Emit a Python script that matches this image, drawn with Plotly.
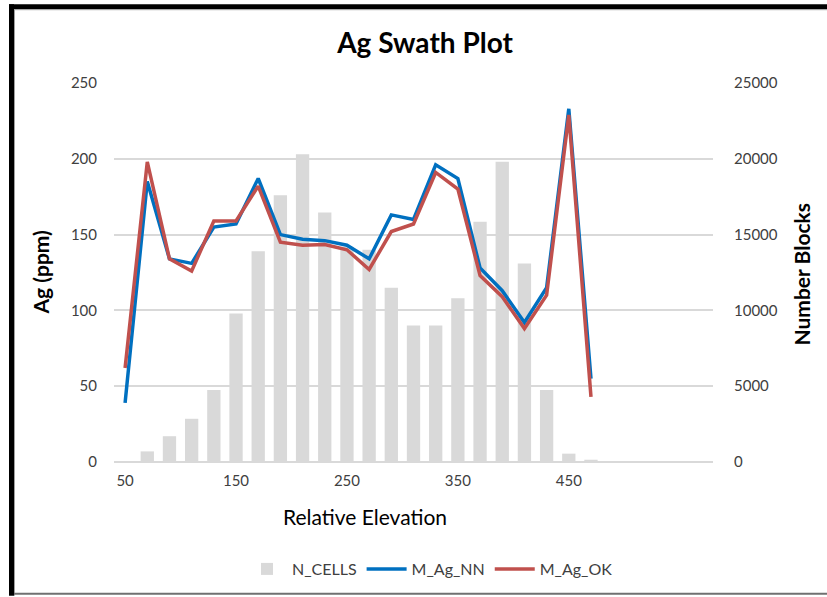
import plotly.graph_objects as go

# Relative elevation slices (swath centres)
elevation = [50, 70, 90, 110, 130, 150, 170, 190, 210, 230, 250, 270,
             290, 310, 330, 350, 370, 390, 410, 430, 450, 470]

# Number of block-model cells per slice
n_cells = [0, 700, 1700, 2850, 4750, 9800, 13900, 17600, 20300, 16450, 14200, 14000,
           11500, 9000, 9000, 10800, 15850, 19800, 13100, 4750, 550, 150]

# Mean Ag grade per slice, nearest-neighbour estimate
m_ag_nn = [39, 185, 134, 131, 155, 157, 187, 150, 147, 146, 143, 134,
           163, 160, 196, 187, 128, 113, 92, 115, 233, 55]

# Mean Ag grade per slice, ordinary-kriging estimate
m_ag_ok = [62, 198, 134, 126, 159, 159, 182, 145, 143, 143.5, 140, 127,
           152, 157, 191, 180, 123, 109, 88, 110, 229, 43]

x_ticks = [50, 150, 250, 350, 450]
left_ticks = [0, 50, 100, 150, 200, 250]
right_ticks = [0, 5000, 10000, 15000, 20000, 25000]

FONT = "Lato, 'Open Sans', sans-serif"
GRID = "#d9d9d9"
TXT = "#404040"

# plot area in pixels
W, H = 827, 597
L, R, T, B = 114, 713, 83, 463


def px(x):
    return (x - L) / (R - L)


def py(y):
    return (B - y) / (B - T)


fig = go.Figure()

fig.add_trace(go.Bar(
    x=elevation, y=n_cells, name="N_CELLS",
    marker=dict(color="#d9d9d9", line=dict(width=0)),
    width=12, yaxis="y",
))
fig.add_trace(go.Scatter(
    x=elevation, y=m_ag_nn, name="M_Ag_NN", mode="lines",
    line=dict(color="#0070c0", width=3.5), yaxis="y2",
))
fig.add_trace(go.Scatter(
    x=elevation, y=m_ag_ok, name="M_Ag_OK", mode="lines",
    line=dict(color="#c0504d", width=3.5), yaxis="y2",
))

shapes = [
    # outer frame: heavy top and left edges, thin bottom rule
    dict(type="rect", xref="paper", yref="paper", x0=px(9), x1=px(827), y0=py(9), y1=py(4),
         fillcolor="black", line=dict(width=0), layer="above"),
    dict(type="rect", xref="paper", yref="paper", x0=px(9), x1=px(14), y0=py(597), y1=py(4),
         fillcolor="black", line=dict(width=0), layer="above"),
    dict(type="line", xref="paper", yref="paper", x0=px(14), x1=px(827), y0=py(9.5), y1=py(9.5),
         line=dict(color="#a0a0a0", width=1), layer="above"),
    dict(type="line", xref="paper", yref="paper", x0=px(14.5), x1=px(14.5), y0=py(597), y1=py(9),
         line=dict(color="#a0a0a0", width=1), layer="above"),
    dict(type="line", xref="paper", yref="paper", x0=px(14), x1=px(827), y0=py(595), y1=py(595),
         line=dict(color="#707070", width=2), layer="above"),
]

annotations = [
    dict(text="<b>Ag (ppm)</b>", xref="paper", yref="paper", x=px(40), y=py(273),
         xanchor="center", yanchor="middle",
         showarrow=False, textangle=-90, font=dict(family=FONT, size=21, color="black")),
    dict(text="<b>Number Blocks</b>", xref="paper", yref="paper", x=px(801), y=py(275),
         xanchor="center", yanchor="middle",
         showarrow=False, textangle=-90, font=dict(family=FONT, size=21, color="black")),
    dict(text="Relative Elevation", xref="paper", yref="paper", x=px(365), y=py(518),
         xanchor="center", yanchor="middle",
         showarrow=False, font=dict(family=FONT, size=21, color="black")),
]

fig.update_layout(
    width=W, height=H,
    margin=dict(l=L, r=W - R, t=T, b=H - B),
    paper_bgcolor="white", plot_bgcolor="white",
    title=dict(text="<b>Ag Swath Plot</b>", x=425 / W,
               xanchor="center", y=1 - 43 / H, yanchor="middle",
               font=dict(family=FONT, size=28, color="black")),
    font=dict(family=FONT, size=15, color=TXT),
    bargap=0.4,
    xaxis=dict(range=[40, 580], tickvals=x_ticks, ticktext=[str(v) for v in x_ticks],
               showgrid=False, zeroline=False, showline=False, ticks="",
               ticklabelstandoff=8, tickfont=dict(size=15, color=TXT)),
    yaxis=dict(range=[0, 25000], side="right", tickvals=right_ticks,
               ticktext=[str(v) for v in right_ticks],
               showgrid=True, gridcolor=GRID, gridwidth=1.5, zeroline=True,
               zerolinecolor=GRID, zerolinewidth=1.5, showline=False, ticks="",
               ticklabelstandoff=20, tickfont=dict(size=15, color=TXT)),
    yaxis2=dict(range=[0, 250], side="left", overlaying="y", tickvals=left_ticks,
                ticktext=[str(v) for v in left_ticks],
                showgrid=False, zeroline=False, showline=False, ticks="",
                ticklabelstandoff=16, tickfont=dict(size=15, color=TXT)),
    legend=dict(orientation="h", x=px(430), xanchor="center", y=py(569), yanchor="middle",
                font=dict(family=FONT, size=16, color=TXT), itemwidth=40,
                traceorder="normal", bgcolor="rgba(0,0,0,0)"),
    shapes=shapes,
    annotations=annotations,
)

fig.write_html("out.html")
